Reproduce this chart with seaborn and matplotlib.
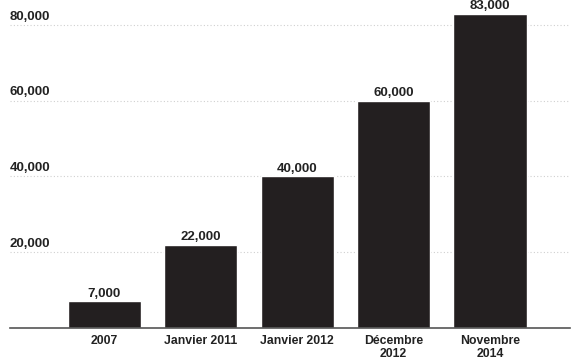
import pandas as pd
import matplotlib
matplotlib.use("Agg")
import matplotlib.pyplot as plt
import matplotlib.transforms as mtransforms
import seaborn as sns

# data
periods = ['2007', 'Janvier 2011', 'Janvier 2012', 'Décembre\n2012', 'Novembre\n2014']
values = [7000, 22000, 40000, 60000, 83000]
value_labels = ['7,000', '22,000', '40,000', '60,000', '83,000']
yticks = [20000, 40000, 60000, 80000]
ytick_labels = ['20,000', '40,000', '60,000', '80,000']

df = pd.DataFrame({'Period': periods, 'Value': values})

sns.set_style("white")
plt.rcParams['font.family'] = ['Liberation Sans', 'DejaVu Sans']

fig = plt.figure(figsize=(5.72, 3.62), dpi=100)
ax = fig.add_axes([10/572, 34/362, 560/572, 328/362])

sns.barplot(data=df, x='Period', y='Value', color='#231f20', width=0.76,
            saturation=1, ax=ax)

ax.set_xlim(-0.98, 4.83)
ax.set_ylim(0, 86600)

# faint dotted gridlines
for v in yticks:
    ax.axhline(v, color='#d0d0d0', lw=0.8, ls=(0, (1, 2)), zorder=0)

# y labels sit above the gridlines, at the left
trans = mtransforms.blended_transform_factory(ax.transAxes, ax.transData)
for v, t in zip(yticks, ytick_labels):
    ax.text(0.0, v + 600, t, transform=trans, ha='left', va='bottom',
            fontsize=9.5, fontweight='bold', color='#222222')

# value labels
for i, (v, t) in enumerate(zip(values, value_labels)):
    ax.text(i, v + 500, t, ha='center', va='bottom', fontsize=9.5,
            fontweight='bold', color='#222222')

ax.set_yticks([])
ax.set_xlabel('')
ax.set_ylabel('')
ax.tick_params(axis='x', length=0, pad=5)
for lbl in ax.get_xticklabels():
    lbl.set_fontsize(8.8)
    lbl.set_fontweight('bold')
    lbl.set_color('#222222')
    lbl.set_linespacing(1.15)

for s in ['top', 'right', 'left']:
    ax.spines[s].set_visible(False)
ax.spines['bottom'].set_color('#555555')
ax.spines['bottom'].set_linewidth(1.2)

fig.savefig('out.png', dpi=100)
